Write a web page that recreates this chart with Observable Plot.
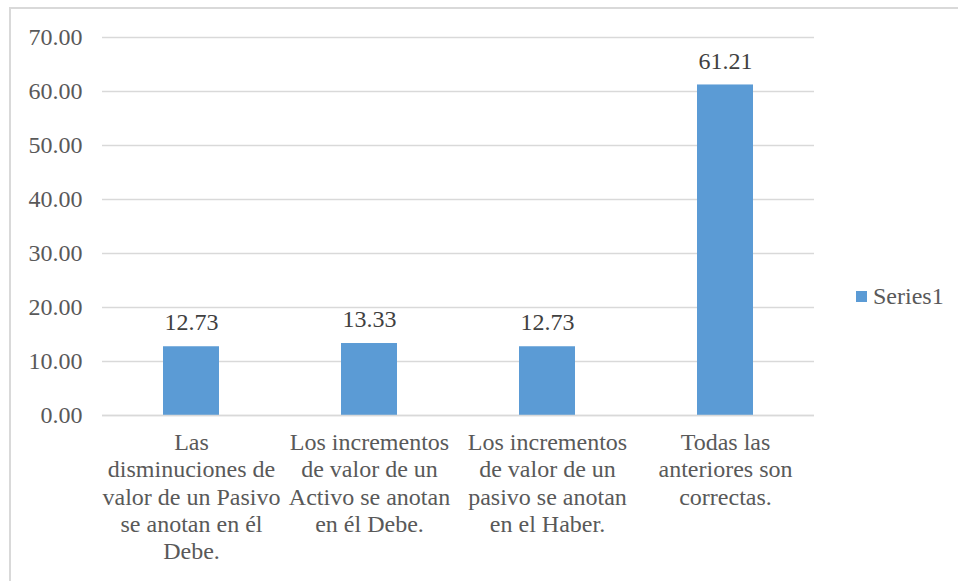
<!DOCTYPE html>
<html>
<head>
<meta charset="utf-8">
<script src="https://cdn.jsdelivr.net/npm/d3@7"></script>
<script src="https://cdn.jsdelivr.net/npm/@observablehq/plot@0.6"></script>
<style>
  html, body { margin: 0; padding: 0; background: #fff; }
  #wrap { position: relative; width: 958px; height: 581px; overflow: hidden; }
  #border { position: absolute; left: 9px; top: 7px; width: 960px; height: 600px; border: 2px solid #d9d9d9; box-sizing: border-box; }
  #chart { position: absolute; left: 0; top: 0; }
  #legend { position: absolute; left: 856px; top: 282px; font-size: 24px; color: #595959; display: flex; align-items: center; line-height: 28px; }
  #legend .sw { width: 11px; height: 11px; background: #5b9bd5; margin-right: 6px; }
</style>
</head>
<body>
<div id="wrap">
  <div id="border"></div>
  <div id="chart"></div>
  <div id="legend"><span class="sw"></span><span id="legname"></span></div>
</div>
<script>
const categories = [
  "Las\ndisminuciones de\nvalor de un Pasivo\nse anotan en él\nDebe.",
  "Los incrementos\nde valor de un\nActivo se anotan\nen él Debe.",
  "Los incrementos\nde valor de un\npasivo se anotan\nen el Haber.",
  "Todas las\nanteriores son\ncorrectas."
];
const values = [12.73, 13.33, 12.73, 61.21];
const seriesName = "Series1";
const yTicks = [0, 10, 20, 30, 40, 50, 60, 70];

const FONT = '"Liberation Serif", Tinos, "Times New Roman"';
const data = categories.map((c, i) => ({category: c, value: values[i]}));
document.getElementById("legname").textContent = seriesName;
document.getElementById("wrap").style.fontFamily = FONT;
document.getElementById("legend").style.fontFamily = FONT;

const chart = Plot.plot({
  width: 958,
  height: 581,
  marginTop: 37,
  marginBottom: 166,
  marginLeft: 102,
  marginRight: 144,
  style: {fontFamily: FONT, fontSize: "24px", color: "#595959", background: "transparent"},
  x: {domain: categories, paddingInner: 0.686, paddingOuter: 0.343, label: null},
  y: {domain: [0, 70], ticks: yTicks, label: null},
  marks: [
    Plot.gridY(yTicks, {stroke: "#d9d9d9", strokeOpacity: 1, strokeWidth: 1.5}),
    Plot.barY(data, {x: "category", y: "value", fill: "#5b9bd5"}),
    Plot.ruleY([0], {stroke: "#d9d9d9", strokeWidth: 1.5}),
    Plot.text(data, {x: "category", y: "value", text: d => d.value.toFixed(2), dy: -24, fill: "#404040", fontSize: 24}),
    Plot.axisY(yTicks, {tickSize: 0, tickPadding: 20, tickFormat: d => d.toFixed(2), fill: "#595959", fontSize: 24, label: null}),
    Plot.axisX({tickSize: 0, tickPadding: 15, lineHeight: 1.14, fill: "#595959", fontSize: 24, label: null, textOverflow: null})
  ]
});
chart.style.fontFamily = FONT;
chart.querySelectorAll("text, g").forEach(el => el.style.fontFamily = FONT);
document.getElementById("chart").appendChild(chart);
</script>
</body>
</html>
